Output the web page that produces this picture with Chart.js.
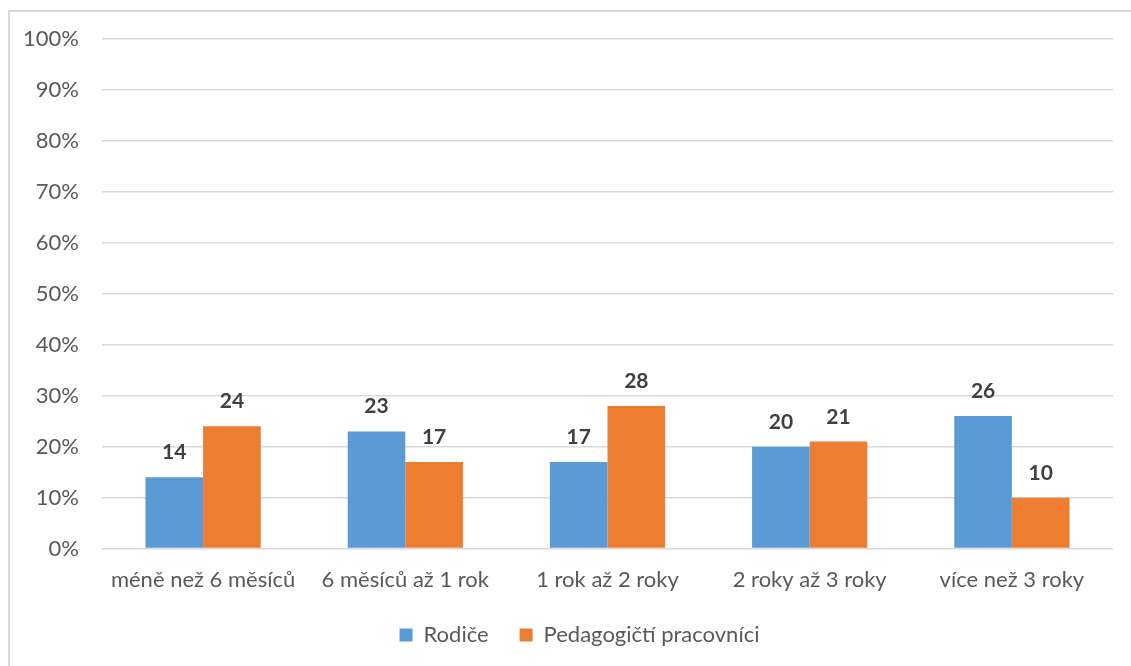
<!DOCTYPE html>
<html>
<head>
<meta charset="utf-8">
<script src="https://cdn.jsdelivr.net/npm/chart.js@4/dist/chart.umd.min.js"></script>
<style>
  html, body { margin: 0; padding: 0; background: #fff; }
  #wrap { position: relative; width: 1131px; height: 666px; overflow: hidden; }
  #frame { position: absolute; left: 8px; top: 10px; width: 1140px; height: 680px;
           border: 2px solid #d9d9d9; box-sizing: border-box; }
  #c { position: absolute; left: 0; top: 0; }
</style>
</head>
<body>
<div id="wrap">
  <div id="frame"></div>
  <canvas id="c" width="1131" height="666"></canvas>
</div>
<script>
const categories = ['méně než 6 měsíců', '6 měsíců až 1 rok', '1 rok až 2 roky', '2 roky až 3 roky', 'více než 3 roky'];
const rodice = [14, 23, 17, 20, 26];
const pedagogove = [24, 17, 28, 21, 10];
const seriesNames = ['Rodiče', 'Pedagogičtí pracovníci'];

const FONT = 'Lato, "Open Sans", sans-serif';

// Writes each bar's value above it
const valueLabels = {
  id: 'valueLabels',
  afterDatasetsDraw(chart) {
    const ctx = chart.ctx;
    ctx.save();
    ctx.font = 'bold 21px ' + FONT;
    ctx.fillStyle = '#404040';
    ctx.textAlign = 'center';
    ctx.textBaseline = 'alphabetic';
    chart.data.datasets.forEach((ds, i) => {
      chart.getDatasetMeta(i).data.forEach((el, j) => {
        ctx.fillText(String(ds.data[j]), el.x, el.y - 18);
      });
    });
    ctx.restore();
  }
};

// Nudges the legend row a little to the right
const legendShift = {
  id: 'legendShift',
  afterLayout(chart) {
    if (chart.legend) chart.legend.left += 46;
  }
};

new Chart(document.getElementById('c'), {
  type: 'bar',
  data: {
    labels: categories,
    datasets: [
      { label: seriesNames[0], data: rodice, backgroundColor: '#5B9BD5' },
      { label: seriesNames[1], data: pedagogove, backgroundColor: '#ED7D31' }
    ]
  },
  options: {
    responsive: false,
    animation: false,
    layout: { padding: { top: 39, right: 18, bottom: 10, left: 0 } },
    datasets: { bar: { barPercentage: 1.0, categoryPercentage: 0.57 } },
    scales: {
      x: {
        afterFit(scale) { scale.height -= 18; },
        grid: { display: false, drawTicks: false },
        border: { display: false },
        ticks: { color: '#595959', font: { family: FONT, size: 22 }, padding: 18, maxRotation: 0 }
      },
      y: {
        min: 0, max: 100,
        afterFit(scale) { scale.width = 102; },
        grid: { color: '#d9d9d9', lineWidth: 1.5, drawTicks: false },
        border: { display: false },
        ticks: {
          stepSize: 10, color: '#595959', padding: 23,
          font: { family: FONT, size: 22 },
          callback: v => v + '%'
        }
      }
    },
    plugins: {
      legend: {
        position: 'bottom',
        labels: {
          color: '#595959', font: { family: FONT, size: 22 },
          boxWidth: 13, boxHeight: 13, padding: 31
        }
      },
      tooltip: { enabled: false }
    }
  },
  plugins: [valueLabels, legendShift]
});
</script>
</body>
</html>
